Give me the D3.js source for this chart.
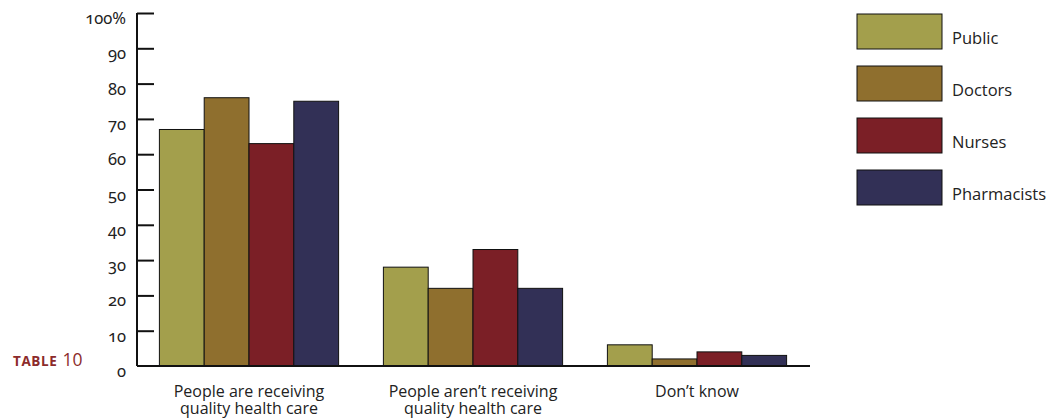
<!DOCTYPE html>
<html>
<head>
<meta charset="utf-8">
<script src="https://cdn.jsdelivr.net/npm/d3@7"></script>
<style>
  html, body { margin: 0; padding: 0; background: #fff; }
  svg { display: block; font-family: "Open Sans", "Noto Sans", sans-serif; }
  .num { font-family: "Noto Sans", "Open Sans", sans-serif; font-variant-numeric: oldstyle-nums; font-feature-settings: "onum" 1; }
</style>
</head>
<body>
<svg id="chart" width="1052" height="419"></svg>
<script>
// Survey responses on health care quality, by respondent group (percent)
const categories = [
  ["People are receiving", "quality health care"],
  ["People aren\u2019t receiving", "quality health care"],
  ["Don\u2019t know"]
];
const seriesNames = ["Public", "Doctors", "Nurses", "Pharmacists"];
const publicValues = [67, 28, 6];
const doctorsValues = [76, 22, 2];
const nursesValues = [63, 33, 4];
const pharmacistsValues = [75, 22, 3];
const yTickValues = [0, 10, 20, 30, 40, 50, 60, 70, 80, 90, 100];
const yTickLabels = ["0", "10", "20", "30", "40", "50", "60", "70", "80", "90", "100%"];
const seriesColors = ["#a39f4c", "#8f6f2e", "#7b1f26", "#323056"];

const series = [publicValues, doctorsValues, nursesValues, pharmacistsValues];

const svg = d3.select("#chart");
const plotLeft = 137, plotRight = 809, plotTop = 13, plotBottom = 366;

const x0 = d3.scaleBand()
  .domain(d3.range(categories.length))
  .range([plotLeft, plotRight])
  .paddingInner(0.2)
  .paddingOuter(0.1);

const x1 = d3.scaleBand()
  .domain(d3.range(seriesNames.length))
  .range([0, x0.bandwidth()]);

const y = d3.scaleLinear().domain([0, 100]).range([plotBottom, plotTop]);

// bars
const groups = svg.append("g").selectAll("g")
  .data(categories.map((c, i) => i))
  .join("g")
  .attr("transform", i => `translate(${x0(i)},0)`);

groups.selectAll("rect")
  .data(i => series.map((vals, s) => ({ s, v: vals[i] })))
  .join("rect")
  .attr("x", d => x1(d.s))
  .attr("width", x1.bandwidth())
  .attr("y", d => y(d.v))
  .attr("height", d => y(0) - y(d.v))
  .attr("fill", d => seriesColors[d.s])
  .attr("stroke", "#111")
  .attr("stroke-width", 1);

// y axis: ticks point inward, labels sit a little below each tick
const yAxis = d3.axisRight(y)
  .tickValues(yTickValues)
  .tickSize(17)
  .tickFormat("");
const yg = svg.append("g").attr("transform", `translate(${plotLeft},0)`).call(yAxis);
yg.select(".domain").remove();
yg.selectAll(".tick line").attr("stroke", "#111").attr("stroke-width", 2);
yg.selectAll(".tick").filter(d => d === 0).remove();

svg.append("line")
  .attr("x1", plotLeft).attr("x2", plotLeft)
  .attr("y1", y(100)).attr("y2", y(0))
  .attr("stroke", "#111").attr("stroke-width", 2);

svg.append("line")
  .attr("x1", plotLeft).attr("x2", 810)
  .attr("y1", y(0)).attr("y2", y(0))
  .attr("stroke", "#111").attr("stroke-width", 2);

svg.append("g").selectAll("text")
  .data(yTickValues)
  .join("text")
  .attr("class", "num")
  .attr("x", 126)
  .attr("y", d => y(d) + 11)
  .attr("text-anchor", "end")
  .attr("font-size", 16.5)
  .attr("fill", "#222")
  .text((d, i) => yTickLabels[i]);

// category labels
const catLabels = svg.append("g").selectAll("text")
  .data(categories)
  .join("text")
  .attr("x", (d, i) => x0(i) + x0.bandwidth() / 2)
  .attr("y", 397)
  .attr("text-anchor", "middle")
  .attr("font-size", 16)
  .attr("fill", "#222");
catLabels.selectAll("tspan")
  .data(d => d)
  .join("tspan")
  .attr("x", function () { return this.parentNode.getAttribute("x"); })
  .attr("dy", (d, i) => i === 0 ? 0 : 17)
  .text(d => d);

// table tag
const tag = svg.append("text")
  .attr("x", 13)
  .attr("y", 366)
  .attr("font-weight", "bold")
  .attr("fill", "#8c2b2b");
tag.append("tspan").attr("font-size", 13.5).attr("letter-spacing", 0.6).text("TABLE");
tag.append("tspan").attr("font-size", 17.5).attr("font-weight", 500).attr("dx", 5).text("10");

// legend
const legend = svg.append("g").selectAll("g")
  .data(seriesNames)
  .join("g")
  .attr("transform", (d, i) => `translate(857,${14 + i * 52})`);
legend.append("rect")
  .attr("width", 85).attr("height", 35)
  .attr("fill", (d, i) => seriesColors[i])
  .attr("stroke", "#111").attr("stroke-width", 1);
legend.append("text")
  .attr("x", 95).attr("y", 30)
  .attr("font-size", 16.5)
  .attr("fill", "#222")
  .text(d => d);
</script>
</body>
</html>
